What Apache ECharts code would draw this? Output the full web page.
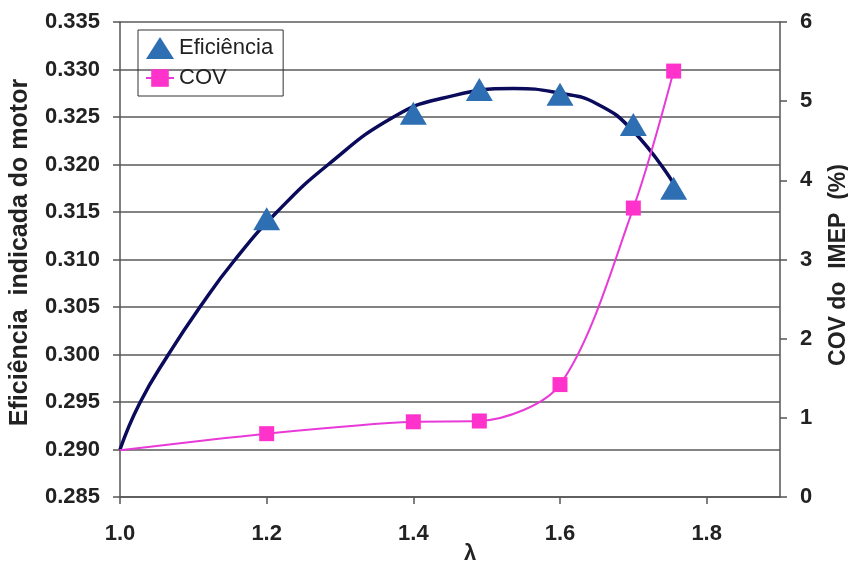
<!DOCTYPE html>
<html>
<head>
<meta charset="utf-8">
<script src="https://cdn.jsdelivr.net/npm/echarts@6/dist/echarts.min.js"></script>
<style>html,body{margin:0;padding:0;background:#fff}#c{width:848px;height:565px}</style>
</head>
<body>
<div id="c"></div>
<script>
// Eficiência markers (λ, efficiency)
const effX = [1.2, 1.4, 1.49, 1.6, 1.7, 1.755];
const effY = [0.3143, 0.3254, 0.3279, 0.3274, 0.3242, 0.3175];
// Eficiência trend curve
const curveX = [1.0, 1.027, 1.066, 1.109, 1.157, 1.214, 1.284, 1.373, 1.441, 1.537, 1.60, 1.65, 1.70, 1.755];
const curveY = [0.2900, 0.2949, 0.3000, 0.3050, 0.3100, 0.3150, 0.3200, 0.3250, 0.3270, 0.3280, 0.3275, 0.3264, 0.3235, 0.3180];
// COV (%)
const covX = [1.0, 1.2, 1.4, 1.49, 1.6, 1.7, 1.755];
const covY = [0.59, 0.80, 0.95, 0.96, 1.42, 3.65, 5.38];
const xTicks = [1.0, 1.2, 1.4, 1.6, 1.8];

const chart = echarts.init(document.getElementById('c'), null, {renderer: 'canvas'});
const FONT = 'Liberation Sans';
const gridCol = '#5a5a5a';
chart.setOption({
  animation: false,
  backgroundColor: '#fff',
  textStyle: {fontFamily: FONT},
  grid: {left: 120, right: 68, top: 22, bottom: 68, containLabel: false, outerBoundsMode: 'none'},
  legend: {
    orient: 'vertical', left: 138, top: 30,
    borderColor: '#333', borderWidth: 1, padding: [7, 10, 7, 7],
    itemGap: 8, itemWidth: 28, itemHeight: 22,
    textStyle: {fontFamily: FONT, fontSize: 22, color: '#222'},
    data: [{name: 'Eficiência', icon: 'triangle'}, {name: 'COV'}]
  },
  xAxis: {
    type: 'value', min: 1.0, max: 1.9, interval: 0.2,
    name: 'λ', nameLocation: 'middle', nameGap: 46, nameMoveOverlap: false,
    nameTextStyle: {fontSize: 22, fontWeight: 'bold', color: '#222', padding: [0, 0, 0, 40]},
    axisLine: {show: true, lineStyle: {color: '#555', width: 1.5}},
    axisTick: {show: true, length: 7, lineStyle: {color: '#555', width: 1.5}},
    axisLabel: {
      fontSize: 22, fontWeight: 'bold', color: '#222', margin: 26, showMaxLabel: false,
      formatter: v => xTicks.some(t => Math.abs(t - v) < 1e-6) ? v.toFixed(1) : ''
    },
    splitLine: {show: false}
  },
  yAxis: [{
    type: 'value', min: 0.285, max: 0.335, interval: 0.005, position: 'left',
    name: 'Eficiência  indicada do motor', nameLocation: 'middle', nameGap: 87, nameMoveOverlap: false,
    nameTextStyle: {fontSize: 25, fontWeight: 'bold', color: '#222', padding: [0, 0, 0, 14]},
    axisLine: {show: true, lineStyle: {color: '#555', width: 1.5}},
    axisTick: {show: true, length: 7, lineStyle: {color: '#555', width: 1.5}},
    axisLabel: {fontSize: 22, fontWeight: 'bold', color: '#222', margin: 20, formatter: v => v.toFixed(3)},
    splitLine: {show: true, lineStyle: {color: gridCol, width: 1.5}}
  }, {
    type: 'value', min: 0, max: 6, interval: 1, position: 'right',
    name: 'COV do  IMEP  (%)', nameLocation: 'middle', nameGap: 47, nameMoveOverlap: false,
    nameTextStyle: {fontSize: 23, fontWeight: 'bold', color: '#222', padding: [0, 11, 0, 0]},
    axisLine: {show: true, lineStyle: {color: '#555', width: 1.5}},
    axisTick: {show: true, length: 7, lineStyle: {color: '#555', width: 1.5}},
    axisLabel: {fontSize: 22, fontWeight: 'bold', color: '#222', margin: 20},
    splitLine: {show: false}
  }],
  series: [{
    name: 'curve', type: 'line', yAxisIndex: 0, smooth: 0.5, showSymbol: false,
    lineStyle: {color: '#0b0b5c', width: 3.5}, itemStyle: {color: '#0b0b5c'},
    data: curveX.map((x, i) => [x, curveY[i]]), z: 2
  }, {
    name: 'Eficiência', type: 'scatter', yAxisIndex: 0, symbol: 'triangle', symbolSize: [27, 23],
    itemStyle: {color: '#2e6fb3', opacity: 1},
    data: effX.map((x, i) => [x, effY[i]]), z: 4
  }, {
    name: 'COV', type: 'line', yAxisIndex: 1, smooth: 0.3, symbol: 'rect', symbolSize: 15,
    lineStyle: {color: '#e83ad8', width: 2}, itemStyle: {color: '#ff33cc'},
    data: covX.map((x, i) => i === 0 ? {value: [x, covY[i]], symbol: 'none'} : [x, covY[i]]), z: 3
  }]
});
</script>
</body>
</html>
